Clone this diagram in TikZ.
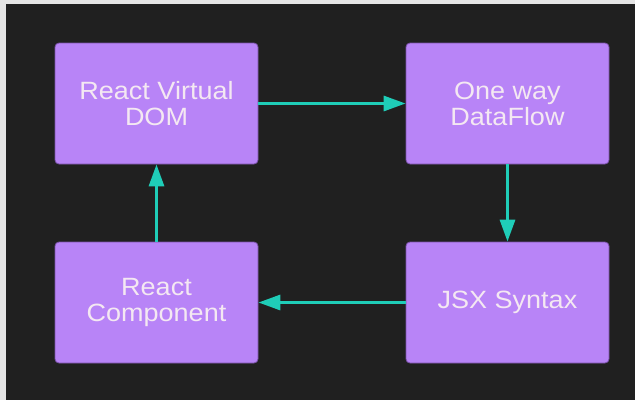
\documentclass[tikz,border=0pt]{standalone}
\usepackage{fontspec}
\setmainfont{Liberation Sans}
\newfontfamily\labfont[FakeStretch=1.08]{Liberation Sans}
\usetikzlibrary{arrows.meta}
\definecolor{bgdark}{HTML}{202020}
\definecolor{boxfill}{HTML}{B884F7}
\definecolor{boxedge}{HTML}{7A52A8}
\definecolor{txtcol}{HTML}{F4E8F2}
\definecolor{arrcol}{HTML}{1FCDB8}
\begin{document}
\begin{tikzpicture}[x=1pt,y=-1pt,
  card/.style={draw=boxedge, line width=0.8pt, fill=boxfill, rounded corners=4pt,
    minimum width=203pt, minimum height=121pt, inner sep=0pt,
    text=txtcol, align=center, font=\labfont\fontsize{25}{26}\selectfont},
  flow/.style={draw=arrcol, line width=3.2pt,
    -{Triangle[length=22pt,width=15pt]}}]
\useasboundingbox (0,0) rectangle (635,400);
\fill[white!90!black] (0,0) rectangle (635,400);
\fill[bgdark] (6,4) rectangle (635,400);
\node[card] (vdom) at (156.5,103.5) {React Virtual\\DOM};
\node[card] (flowbox) at (507.5,103.5) {One way\\DataFlow};
\node[card] (jsx) at (507.5,302.5) {JSX Syntax};
\node[card] (comp) at (156.5,302.5) {React\\Component};
\draw[flow] (vdom.east) -- (flowbox.west);
\draw[flow] (flowbox.south) -- (jsx.north);
\draw[flow] (jsx.west) -- (comp.east);
\draw[flow] (comp.north) -- (vdom.south);
\end{tikzpicture}
\end{document}
